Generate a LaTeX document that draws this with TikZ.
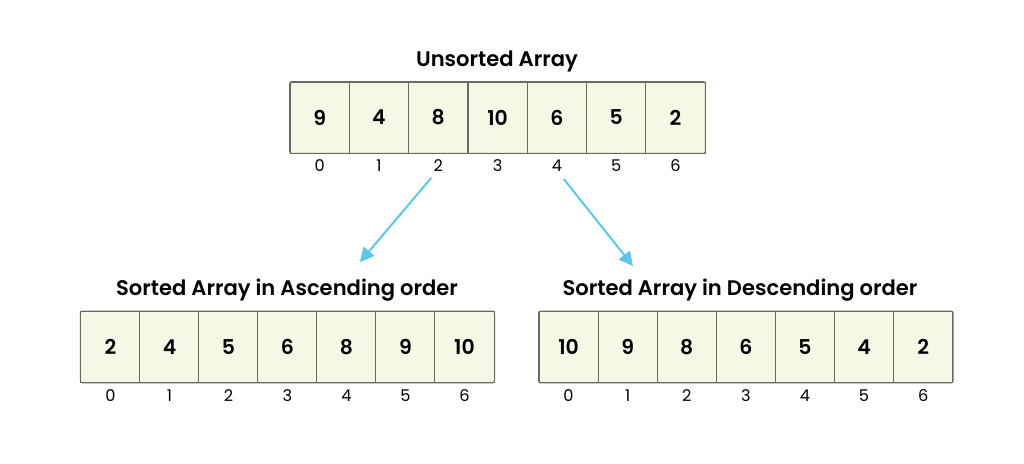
\documentclass[tikz,border=0pt]{standalone}
\usepackage{fontspec}
\setmainfont{Poppins}[BoldFont={Poppins SemiBold}]
\usetikzlibrary{arrows.meta}
\definecolor{cellfill}{HTML}{F7F7E7}
\definecolor{celledge}{HTML}{6A6A60}
\definecolor{arrowblue}{HTML}{5CC6E7}

\begin{document}
\begin{tikzpicture}[x=0.025cm, y=-0.025cm,
  cell/.style={draw=celledge, line width=0.6pt, fill=cellfill, minimum width=1.48cm,
    minimum height=1.775cm, inner sep=0pt, font=\fontsize{14.5}{16}\selectfont\bfseries},
  idx/.style={inner sep=0pt, font=\fontsize{11.5}{13}\selectfont},
  title/.style={inner sep=0pt, font=\fontsize{15}{17}\selectfont\bfseries},
  frame/.style={draw=celledge, line width=0.7pt, rounded corners=1.5pt},
  arr/.style={draw=arrowblue, line width=1.4pt, -{Triangle[length=10pt, width=10pt]}}]
  \useasboundingbox (0,0) rectangle (1024,463);

  % unsorted array
  \node[title] (tu) at (497,61) {Unsorted Array};
  \foreach \v [count=\i from 0] in {9,4,8,10,6,5,2} {
    \node[cell] (u\i) at ({290+59.3*(\i+0.5)},117.5) {\v};
    \node[idx] (ui\i) at ({290+59.3*(\i+0.5)},166) {\i};
  }
  \draw[frame] (u0.north west) rectangle (u6.south east);

  % ascending
  \node[title] (ta) at (287,290) {Sorted Array in Ascending order};
  \foreach \v [count=\i from 0] in {2,4,5,6,8,9,10} {
    \node[cell] (a\i) at ({81+59.0*(\i+0.5)},347) {\v};
    \node[idx] (ai\i) at ({81+59.0*(\i+0.5)},396) {\i};
  }
  \draw[frame] (a0.north west) rectangle (a6.south east);

  % descending
  \node[title] (td) at (740,290) {Sorted Array in Descending order};
  \foreach \v [count=\i from 0] in {10,9,8,6,5,4,2} {
    \node[cell] (d\i) at ({539+59.1*(\i+0.5)},347) {\v};
    \node[idx] (di\i) at ({539+59.1*(\i+0.5)},396) {\i};
  }
  \draw[frame] (d0.north west) rectangle (d6.south east);

  % arrows
  \coordinate (ea) at (360,262);
  \coordinate (ed) at (633,266);
  \draw[arr] ([xshift=-5pt,yshift=-4pt]ui2.south) -- (ea);
  \draw[arr] ([xshift=5pt,yshift=-5pt]ui4.south) -- (ed);
\end{tikzpicture}
\end{document}
